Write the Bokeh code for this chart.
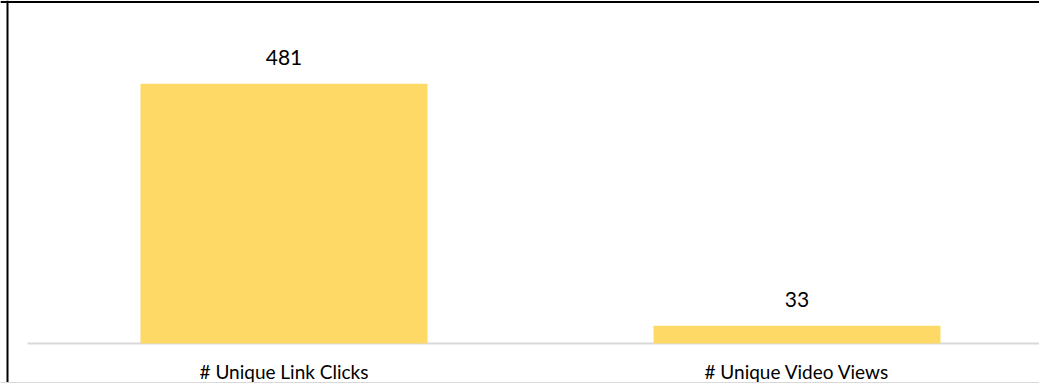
from bokeh.plotting import figure
from bokeh.models import Range1d, ColumnDataSource, LabelSet, Span
from bokeh.core.properties import value
from bokeh.embed import file_html
from bokeh.resources import INLINE

categories = ["# Unique Link Clicks", "# Unique Video Views"]
values = [481, 33]
value_labels = ["481", "33"]

W, H = 1039, 383
# layout: pixels per category unit / per value unit, baseline & left of category axis
PX_X, PX_Y = 513.0, 0.54
X0_PX, BASE_PX = 27.0, 343.0


def xd(px):
    return (px - X0_PX) / PX_X


def yd(py):
    return (BASE_PX - py) / PX_Y


positions = [i + 0.5 for i in range(len(categories))]
src = ColumnDataSource(dict(x=positions, top=values, lab=value_labels,
                            base=[0] * len(values), cat=categories))

p = figure(width=W, height=H, output_backend="svg", toolbar_location=None,
           x_range=Range1d(xd(0), xd(W)), y_range=Range1d(yd(H), yd(0)),
           x_axis_location=None, y_axis_location=None,
           min_border=0, min_border_left=0, min_border_right=0,
           min_border_top=0, min_border_bottom=0)
p.outline_line_color = None
p.xgrid.visible = False
p.ygrid.visible = False
p.background_fill_color = "white"
p.border_fill_color = "white"

# category axis baseline
p.segment(x0=0, y0=0, x1=xd(W), y1=0, line_color="#d9d9d9", line_width=2)

p.vbar(x="x", top="top", width=0.5595, bottom=0, source=src,
       fill_color="#FFD966", line_color=None)

labels = LabelSet(x="x", y="top", text="lab", source=src, text_align="center",
                  text_baseline="alphabetic", y_offset=19, text_font=value("Lato"),
                  text_font_size="21px", text_color="#000000")
p.add_layout(labels)

cat_labels = LabelSet(x="x", y="base", text="cat", source=src, text_align="center",
                      text_baseline="alphabetic", y_offset=-35, text_font=value("Lato"),
                      text_font_size="19px", text_color="#000000")
p.add_layout(cat_labels)

# chart border
p.add_layout(Span(location=xd(7), dimension="height", line_color="#000000", line_width=2))
p.add_layout(Span(location=yd(1.5), dimension="width", line_color="#000000", line_width=2))
p.add_layout(Span(location=yd(382), dimension="width", line_color="#d9d9d9", line_width=1))

open("out.html", "w").write(file_html(p, INLINE))
